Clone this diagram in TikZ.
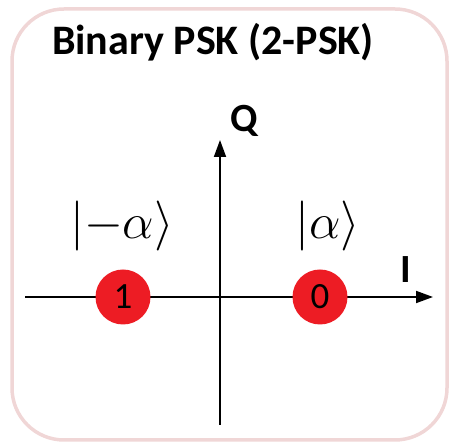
\RequirePackage{fix-cm}
\documentclass[tikz,border=0pt]{standalone}
\usepackage{amsmath}
\usepackage{fontspec}
\setmainfont{Carlito}
\usetikzlibrary{arrows.meta,positioning}
\definecolor{frame}{RGB}{240,214,214}
\definecolor{pt}{RGB}{237,28,36}

\begin{document}
\begin{tikzpicture}[x=1pt,y=-1pt,>={Triangle[length=17pt,width=12pt]},
  ax/.style={line width=1.8pt},
  sym/.style={circle,fill=pt,minimum size=55pt,inner sep=0pt,font=\fontsize{37}{40}\selectfont},
  lab/.style={font=\fontsize{40}{44}\selectfont\bfseries,inner sep=0pt},
  ket/.style={font=\fontsize{50}{58}\selectfont,inner sep=0pt}]
\useasboundingbox (0,0) rectangle (451,443);
\draw[frame,line width=3.5pt,rounded corners=52pt] (12,9) rectangle (447,440);
\node[anchor=base,font=\fontsize{42}{46}\selectfont\bfseries,inner sep=0pt] (t) at (213,55) {Binary PSK (2-PSK)};
% axes
\coordinate (w) at (25,297);\coordinate (e) at (433,297);
\coordinate (s) at (220,425);\coordinate (n) at (220,140);
\draw[ax,->](w)--(e);\draw[ax,->](s)--(n);
\node[lab] (q) at (244,121) {Q};
\node[lab] (i) at (406,270) {I};
% symbols
\node[sym] (b1) at (123,297) {1};
\node[sym] (b0) at (320,297) {0};
\node[ket] (k1) at (122,226) {$\lvert-\alpha\rangle$};
\node[ket] (k0) at (328,226) {$\lvert\alpha\rangle$};
\end{tikzpicture}
\end{document}
